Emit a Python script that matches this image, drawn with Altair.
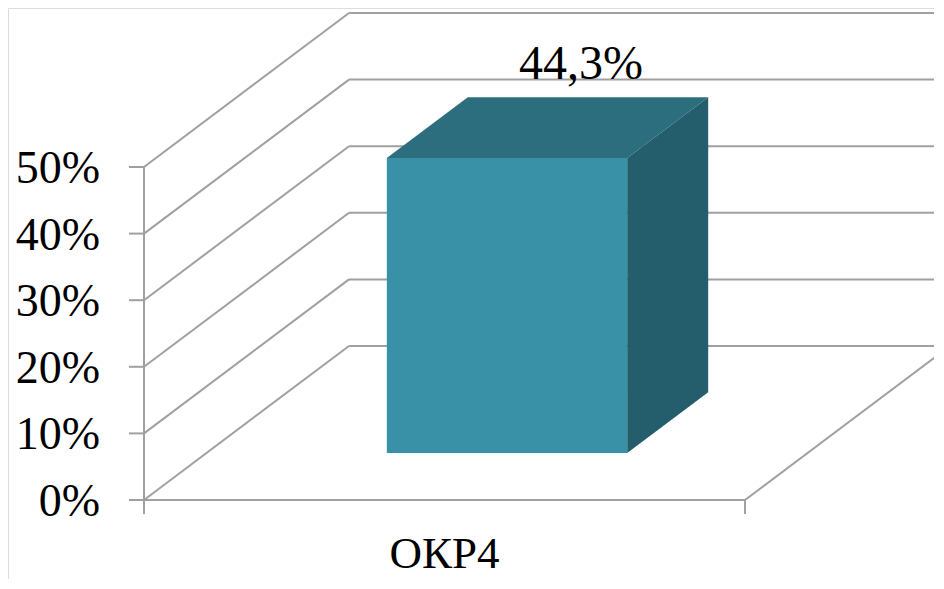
import altair as alt
import pandas as pd

# ---- data ----
categories = ["ОКР4"]
values = [44.3]
value_labels = ["44,3%"]
tick_values = [0, 10, 20, 30, 40, 50]
tick_labels = ["0%", "10%", "20%", "30%", "40%", "50%"]

# ---- pseudo-3D projection (u: category axis 0..1, v: percent, d: depth 0..1) ----
PX_U = 601.0          # pixels per category unit
PX_V = 6.66           # pixels per percent
DX = 205.0 / PX_U     # depth shift along x (category units)
DY = 154.0 / PX_V     # depth shift along y (percent units)
BAR_U = (0.30, 0.70)
BAR_D = (0.305, 0.70)

W, H = 926, 571
ORIGIN_X, ORIGIN_Y = 144 - 8, 500 - 8   # origin of the front plane inside the view
X_DOM = [-ORIGIN_X / PX_U, (W - ORIGIN_X) / PX_U]
Y_DOM = [(ORIGIN_Y - H) / PX_V, ORIGIN_Y / PX_V]


def proj(u, v, d):
    return u + d * DX, v + d * DY


xs = alt.Scale(domain=X_DOM, nice=False, zero=False)
ys = alt.Scale(domain=Y_DOM, nice=False, zero=False)

# ---- grid / walls ----
segs = []
def seg(a, b):
    x1, y1 = a
    x2, y2 = b
    segs.append({"x": x1, "y": y1, "x2": x2, "y2": y2})

for v in tick_values:
    seg(proj(0, v, 0), proj(0, v, 1))     # side wall diagonal
    seg(proj(0, v, 1), proj(1, v, 1))     # back wall gridline
    seg((-15 / PX_U, v), (0, v))           # axis tick
seg(proj(0, 0, 0), proj(1, 0, 0))         # front floor edge
seg(proj(1, 0, 0), proj(1, 0, 1))         # right floor edge
seg(proj(0, 0, 0), proj(0, max(tick_values), 0))  # value axis
seg((0, 0), (0, -14 / PX_V))               # category ticks
seg((1, 0), (1, -14 / PX_V))

grid = alt.Chart(pd.DataFrame(segs)).mark_rule(
    color="#A0A0A0", strokeWidth=2, clip=True
).encode(
    x=alt.X("x:Q", scale=xs, axis=None),
    y=alt.Y("y:Q", scale=ys, axis=None),
    x2="x2:Q", y2="y2:Q",
)

# ---- bar faces ----
front_rows, top_rows, side_rows = [], [], []
for c, v in zip(categories, values):
    u0, u1 = BAR_U
    d0, d1 = BAR_D
    fx0, fy0 = proj(u0, 0, d0)
    fx1, fy1 = proj(u1, v, d0)
    front_rows.append({"x": fx0, "x2": fx1, "y": fy0, "y2": fy1})
    for d in (d0, d1):
        xl, yt = proj(u0, v, d)
        xr, _ = proj(u1, v, d)
        top_rows.append({"y": yt, "x": xl, "x2": xr})
        xs_, yb = proj(u1, 0, d)
        _, yt2 = proj(u1, v, d)
        side_rows.append({"x": xs_, "y": yb, "y2": yt2})

front = alt.Chart(pd.DataFrame(front_rows)).mark_rect(color="#3891A7").encode(
    x=alt.X("x:Q", scale=xs, axis=None), x2="x2:Q",
    y=alt.Y("y:Q", scale=ys, axis=None), y2="y2:Q",
)
top = alt.Chart(pd.DataFrame(top_rows)).mark_area(
    color="#2C6E7E", orient="horizontal", opacity=1
).encode(
    y=alt.Y("y:Q", scale=ys, axis=None),
    x=alt.X("x:Q", scale=xs, axis=None), x2="x2:Q",
)
side = alt.Chart(pd.DataFrame(side_rows)).mark_area(
    color="#245E6C", orient="vertical", opacity=1
).encode(
    x=alt.X("x:Q", scale=xs, axis=None),
    y=alt.Y("y:Q", scale=ys, axis=None), y2="y2:Q",
)

# ---- texts ----
FONT = "Liberation Serif"
ylab_df = pd.DataFrame({"x": [0.0] * len(tick_values), "y": tick_values, "t": tick_labels})
ylabels = alt.Chart(ylab_df).mark_text(
    font=FONT, fontSize=46, align="right", baseline="middle", dx=-44, dy=2, color="black"
).encode(
    x=alt.X("x:Q", scale=xs, axis=None),
    y=alt.Y("y:Q", scale=ys, axis=None),
    text="t:N",
)

cat_df = pd.DataFrame({"x": [(BAR_U[0] + BAR_U[1]) / 2], "y": [0.0], "t": categories})
catlabels = alt.Chart(cat_df).mark_text(
    font=FONT, fontSize=45, align="center", baseline="alphabetic", dy=68, color="black"
).encode(
    x=alt.X("x:Q", scale=xs, axis=None),
    y=alt.Y("y:Q", scale=ys, axis=None),
    text="t:N",
)

lab_rows = []
for v, t in zip(values, value_labels):
    lx, ly = proj((BAR_U[0] + BAR_U[1]) / 2, v, BAR_D[1])
    lab_rows.append({"x": lx, "y": ly, "t": t})
vlabels = alt.Chart(pd.DataFrame(lab_rows)).mark_text(
    font=FONT, fontSize=48, align="center", baseline="middle", dx=-7, dy=-32, color="black"
).encode(
    x=alt.X("x:Q", scale=xs, axis=None),
    y=alt.Y("y:Q", scale=ys, axis=None),
    text="t:N",
)

chart = alt.layer(grid, front, top, side, ylabels, catlabels, vlabels).properties(
    width=W, height=H, padding=0,
    autosize=alt.AutoSizeParams(type="none"),
).configure_view(stroke=None).configure(background="white")

chart.save("out.html", embed_options={"renderer": "svg", "actions": False})
